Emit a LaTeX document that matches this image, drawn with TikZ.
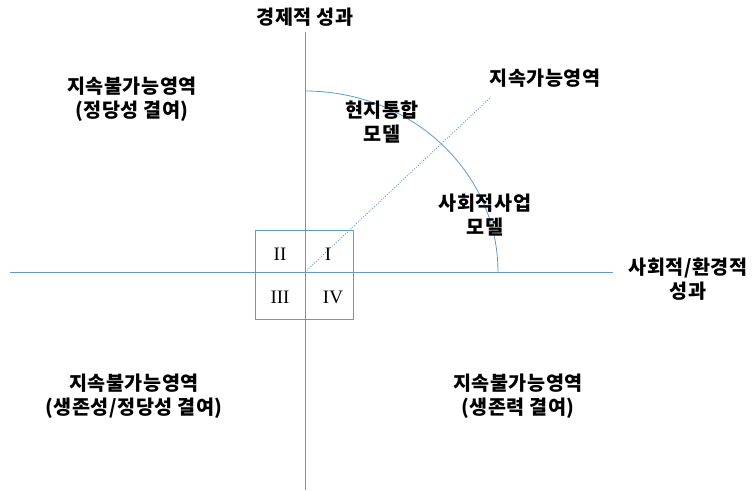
\documentclass[tikz,border=0pt]{standalone}
\usepackage{fontspec}
\setmainfont{Noto Sans CJK KR}[LetterSpace=2.5]
\newfontfamily\romfont{Liberation Serif}
\definecolor{axisblue}{HTML}{5B9BD5}
\begin{document}
\begin{tikzpicture}[x=1pt, y=-1pt,
    axis style/.style={draw=axisblue, line width=0.8pt},
    label style/.style={font=\fontsize{19.6}{24.5}\selectfont\bfseries, align=center},
    num style/.style={font=\romfont\fontsize{19}{22}\selectfont},]
    \useasboundingbox (0,0) rectangle (753,491);

    \coordinate (O) at (305,272);
    \coordinate (top) at (305,32);
    \coordinate (bottom) at (305,490);
    \coordinate (left) at (10,272);
    \coordinate (right) at (613,272);
    \coordinate (diag) at (491,97);

    % axes
    \draw[style=axis style] (top) -- (bottom);
    \draw[style=axis style] (left) -- (right);

    % quadrant box
    \draw[style=axis style] (255,230) rectangle (353,319);

    % boundary arc and sustainable direction
    \draw[style=axis style] (305,91) arc[start angle=-90, end angle=0, x radius=193, y radius=181];
    \draw[axisblue, dash pattern=on 1pt off 1.5pt, line width=0.8pt] (O) -- (diag);

    \node[style=num style] (q2) at (280,254) {II};
    \node[style=num style] (q1) at (328,254) {I};
    \node[style=num style] (q3) at (280,297) {III};
    \node[style=num style] (q4) at (333,297) {IV};

    \node[style=label style] (econ) at (305,17) {경제적 성과};
    \node[style=label style] (social) at (688,279) {사회적/환경적\\성과};
    \node[style=label style] (sust) at (545,78) {지속가능영역};
    \node[style=label style] (local) at (382,122) {현지통합\\모델};
    \node[style=label style] (soc) at (485,215) {사회적사업\\모델};
    \node[style=label style] (ul) at (132,99) {지속불가능영역\\(정당성 결여)};
    \node[style=label style] (ll) at (134,396) {지속불가능영역\\(생존성/정당성 결여)};
    \node[style=label style] (lr) at (518,396) {지속불가능영역\\(생존력 결여)};

\end{tikzpicture}
\end{document}
